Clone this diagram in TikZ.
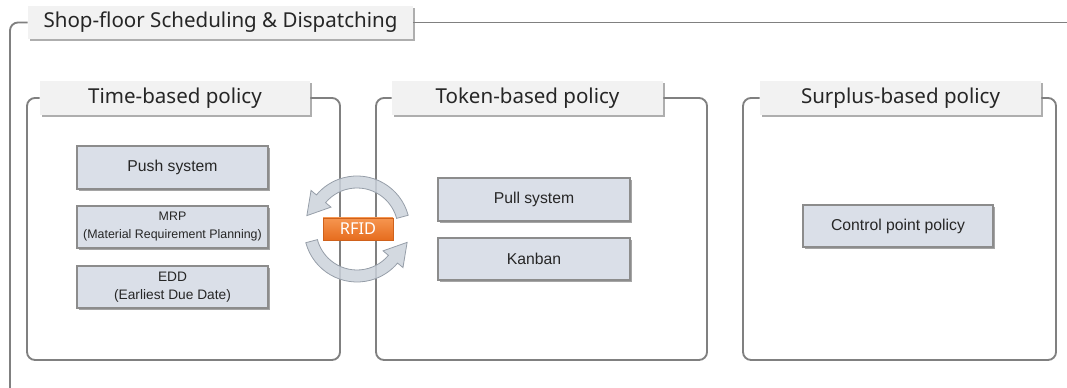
\documentclass[tikz,border=0pt]{standalone}
\usepackage{fontspec}
\setmainfont{Liberation Sans}
\newfontfamily\titlefont{Noto Sans}
\usetikzlibrary{shadows,calc}

\definecolor{framegray}{RGB}{128,128,128}
\definecolor{titlefill}{RGB}{242,242,242}
\definecolor{boxfill}{RGB}{218,223,232}
\definecolor{boxline}{RGB}{140,140,140}
\definecolor{arrowfill}{RGB}{203,210,219}
\definecolor{arrowline}{RGB}{150,158,168}
\definecolor{rfidtop}{RGB}{246,150,80}
\definecolor{rfidbot}{RGB}{230,108,30}

\begin{document}
\begin{tikzpicture}[x=0.75pt,y=0.75pt,
  frame/.style={draw=framegray, line width=1.4pt, rounded corners=6pt},
  headbox/.style={fill=titlefill, inner sep=0pt, text=black!85,
    font=\titlefont\fontsize{15.4}{17}\selectfont,
    drop shadow={shadow xshift=1.6pt, shadow yshift=-1.6pt, opacity=0.45, fill=black!70}},
  itembox/.style={draw=boxline, line width=0.8pt, fill=boxfill, inner sep=0pt,
    align=center, text=black!85, font=\fontsize{11.8}{13.5}\selectfont,
    drop shadow={shadow xshift=1.6pt, shadow yshift=-1.6pt, opacity=0.5, fill=black!70}},
  loop/.style={draw=arrowline, line width=0.6pt, fill=arrowfill, fill opacity=0.85},
  rfid/.style={top color=rfidtop, bottom color=rfidbot, draw=rfidbot!90!black, line width=0.4pt,
    inner sep=0pt, text=white, font=\titlefont\fontsize{12.3}{14}\selectfont}
]
\useasboundingbox (0,0) rectangle (1067,388);

% outer frame
\node[headbox, minimum width=385*0.75pt, minimum height=33*0.75pt] (main) at (220.5,365.5)
  {Shop-floor Scheduling \& Dispatching};
\coordinate (outerBL) at (10,-2);
\coordinate (outerTR) at (1070,365.5);
\draw[frame] (main.west) -| (outerBL);
\draw[frame] (main.east) -- (outerTR);

% panel headers
\node[headbox, minimum width=270*0.75pt, minimum height=34*0.75pt] (t1) at (175,290) {Time-based policy};
\node[headbox, minimum width=271*0.75pt, minimum height=34*0.75pt] (t2) at (527.5,290) {Token-based policy};
\node[headbox, minimum width=281*0.75pt, minimum height=34*0.75pt] (t3) at (900.5,290) {Surplus-based policy};

% panel frames
\coordinate (p1l) at (27,28);  \coordinate (p1r) at (340,28);
\coordinate (p2l) at (376,28); \coordinate (p2r) at (707,28);
\coordinate (p3l) at (743,28); \coordinate (p3r) at (1056,28);
\draw[frame] (t1.west) -| (p1l) -- (p1r) |- (t1.east);
\draw[frame] (t2.west) -| (p2l) -- (p2r) |- (t2.east);
\draw[frame] (t3.west) -| (p3l) -- (p3r) |- (t3.east);

% time-based items
\node[itembox, minimum width=191*0.75pt, minimum height=43*0.75pt] (push) at (172.5,220.5) {Push system};
\node[itembox, minimum width=191*0.75pt, minimum height=42*0.75pt, font=\fontsize{9.3}{13.5}\selectfont] (mrp) at (172.5,161)
  {MRP\\(Material Requirement Planning)};
\node[itembox, minimum width=191*0.75pt, minimum height=42*0.75pt, font=\fontsize{10.3}{13.5}\selectfont] (edd) at (172.5,101)
  {EDD\\(Earliest Due Date)};

% token-based items
\node[itembox, minimum width=192*0.75pt, minimum height=43*0.75pt] (pull) at (534,188.5) {Pull system};
\node[itembox, minimum width=192*0.75pt, minimum height=42*0.75pt] (kanban) at (534,129) {Kanban};

% surplus-based item
\node[itembox, minimum width=190*0.75pt, minimum height=42*0.75pt] (ctrl) at (898,162) {Control point policy};

% circular arrows around the RFID tag
\coordinate (C) at (357,159);
\filldraw[loop] ($(C)+(15:53)$) arc[start angle=15, end angle=140, radius=53]
  -- ($(C)+(140:60)$) -- ($(C)+(140:47)+(230:22)$) -- ($(C)+(140:34)$)
  -- ($(C)+(140:41)$) arc[start angle=140, end angle=15, radius=41] -- cycle;
\filldraw[loop] ($(C)+(195:53)$) arc[start angle=195, end angle=320, radius=53]
  -- ($(C)+(320:60)$) -- ($(C)+(320:47)+(50:22)$) -- ($(C)+(320:34)$)
  -- ($(C)+(320:41)$) arc[start angle=320, end angle=195, radius=41] -- cycle;

\node[rfid, minimum width=70*0.75pt, minimum height=22*0.75pt] (tag) at (358,159) {RFID};
\end{tikzpicture}
\end{document}
